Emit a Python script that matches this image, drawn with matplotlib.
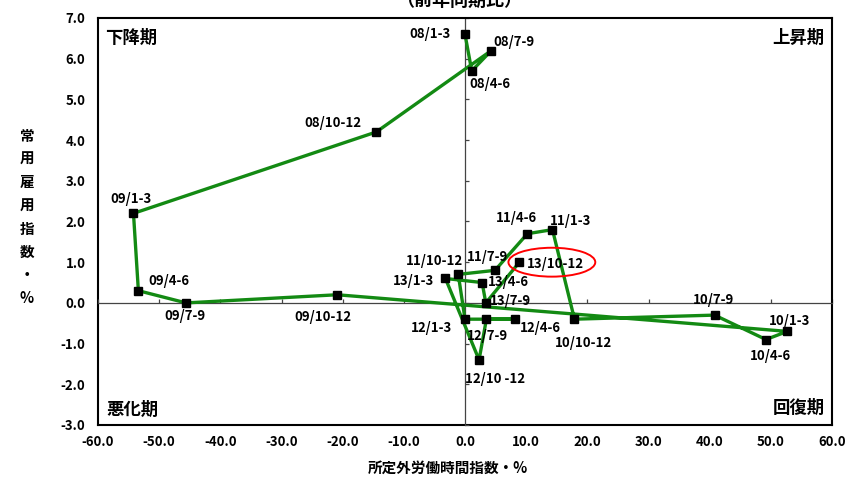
import numpy as np
import matplotlib.pyplot as plt
from matplotlib.patches import Ellipse

plt.rcParams['font.family'] = ['Noto Sans CJK JP', 'DejaVu Sans']
plt.rcParams['font.weight'] = 'bold'

# quarters (year/months), x = 所定外労働時間指数, y = 常用雇用指数 (前年同期比 %)
labels = ['08/1-3', '08/4-6', '08/7-9', '08/10-12',
          '09/1-3', '09/4-6', '09/7-9', '09/10-12',
          '10/1-3', '10/4-6', '10/7-9', '10/10-12',
          '11/1-3', '11/4-6', '11/7-9', '11/10-12',
          '12/1-3', '12/4-6', '12/7-9', '12/10 -12',
          '13/1-3', '13/4-6', '13/7-9', '13/10-12']
overtime = [0.0, 1.1, 4.3, -14.5,
            -54.2, -53.4, -45.6, -20.9,
            52.7, 49.2, 40.8, 17.9,
            14.3, 10.2, 4.9, -1.1,
            0.0, 8.2, 3.5, 2.3,
            -3.2, 2.8, 3.4, 8.9]
employ = [6.6, 5.7, 6.2, 4.2,
          2.2, 0.3, 0.0, 0.2,
          -0.7, -0.9, -0.3, -0.4,
          1.8, 1.7, 0.8, 0.7,
          -0.4, -0.4, -0.4, -1.4,
          0.6, 0.5, 0.0, 1.0]

xticks = np.arange(-60, 61, 10)
yticks = np.arange(-3, 8, 1)

# label offsets in pixels (dx right, dy down)
offs = [(-35, 0), (18, 13), (23, -9), (-43, -9),
        (-2, -14), (31, -10), (-1, 13), (-14, 22),
        (2, -10), (4, 16), (-1, -15), (9, 24),
        (18, -9), (-11, -16), (-7, -13), (-24, -13),
        (-34, 9), (25, 9), (1, 17), (16, 19),
        (-32, 3), (26, -1), (25, -2), (36, 2)]

fig = plt.figure(figsize=(8.49, 4.78), dpi=100)
ax = fig.add_axes([98/849, 53/478, 734/849, 407/478])
ax.set_xlim(-60, 60)
ax.set_ylim(-3, 7)

# zero axes with small inward ticks
ax.spines['left'].set_position(('data', 0))
ax.spines['bottom'].set_position(('data', 0))
for s in ['left', 'bottom']:
    ax.spines[s].set_color('#444444')
    ax.spines[s].set_linewidth(0.9)
for s in ['top', 'right']:
    ax.spines[s].set_color('black')
    ax.spines[s].set_linewidth(1.5)
ax.set_xticks(xticks)
ax.set_yticks(yticks)
ax.tick_params(direction='in', length=3, color='#444444', width=0.9,
               labelbottom=False, labelleft=False)

# tick labels on the outer frame
secx = ax.secondary_xaxis('bottom')
secx.set_xticks(xticks, labels=[f'{v:.1f}' for v in xticks])
secx.tick_params(length=0, pad=7, labelsize=9.5)
secx.spines['bottom'].set_linewidth(1.5)
secy = ax.secondary_yaxis('left')
secy.set_yticks(yticks, labels=[f'{v:.1f}' for v in yticks])
secy.tick_params(length=0, pad=9, labelsize=9.5)
secy.spines['left'].set_linewidth(1.5)

ax.plot(overtime, employ, color='#138a13', lw=2.4, marker='s', ms=6,
        mfc='black', mec='black', zorder=3)

for lab, x, y, (dx, dy) in zip(labels, overtime, employ, offs):
    ax.annotate(lab, (x, y), xytext=(dx, -dy), textcoords='offset pixels',
                ha='center', va='center', fontsize=9.5)

ax.add_patch(Ellipse((14.2, 1.0), 14.2, 0.71, fill=False, ec='red', lw=1.4, zorder=4))

ax.text(0.01, 0.952, '下降期', transform=ax.transAxes, ha='left', va='center', fontsize=12.5)
ax.text(0.99, 0.952, '上昇期', transform=ax.transAxes, ha='right', va='center', fontsize=12.5)
ax.text(0.012, 0.036, '悪化期', transform=ax.transAxes, ha='left', va='center', fontsize=12.5)
ax.text(0.99, 0.041, '回復期', transform=ax.transAxes, ha='right', va='center', fontsize=12.5)

fig.text(459/849, 1 - 10/478, '（前年同期比）', ha='center', va='bottom', fontsize=13)
fig.text(448/849, 1 - 468/478, '所定外労働時間指数・%', ha='center', va='center', fontsize=10.5)
fig.text(27/849, 1 - 217/478, '\n'.join('常用雇用指数・%'), ha='center', va='center',
         fontsize=10.5, linespacing=1.55)

fig.savefig('out.png', dpi=100)
